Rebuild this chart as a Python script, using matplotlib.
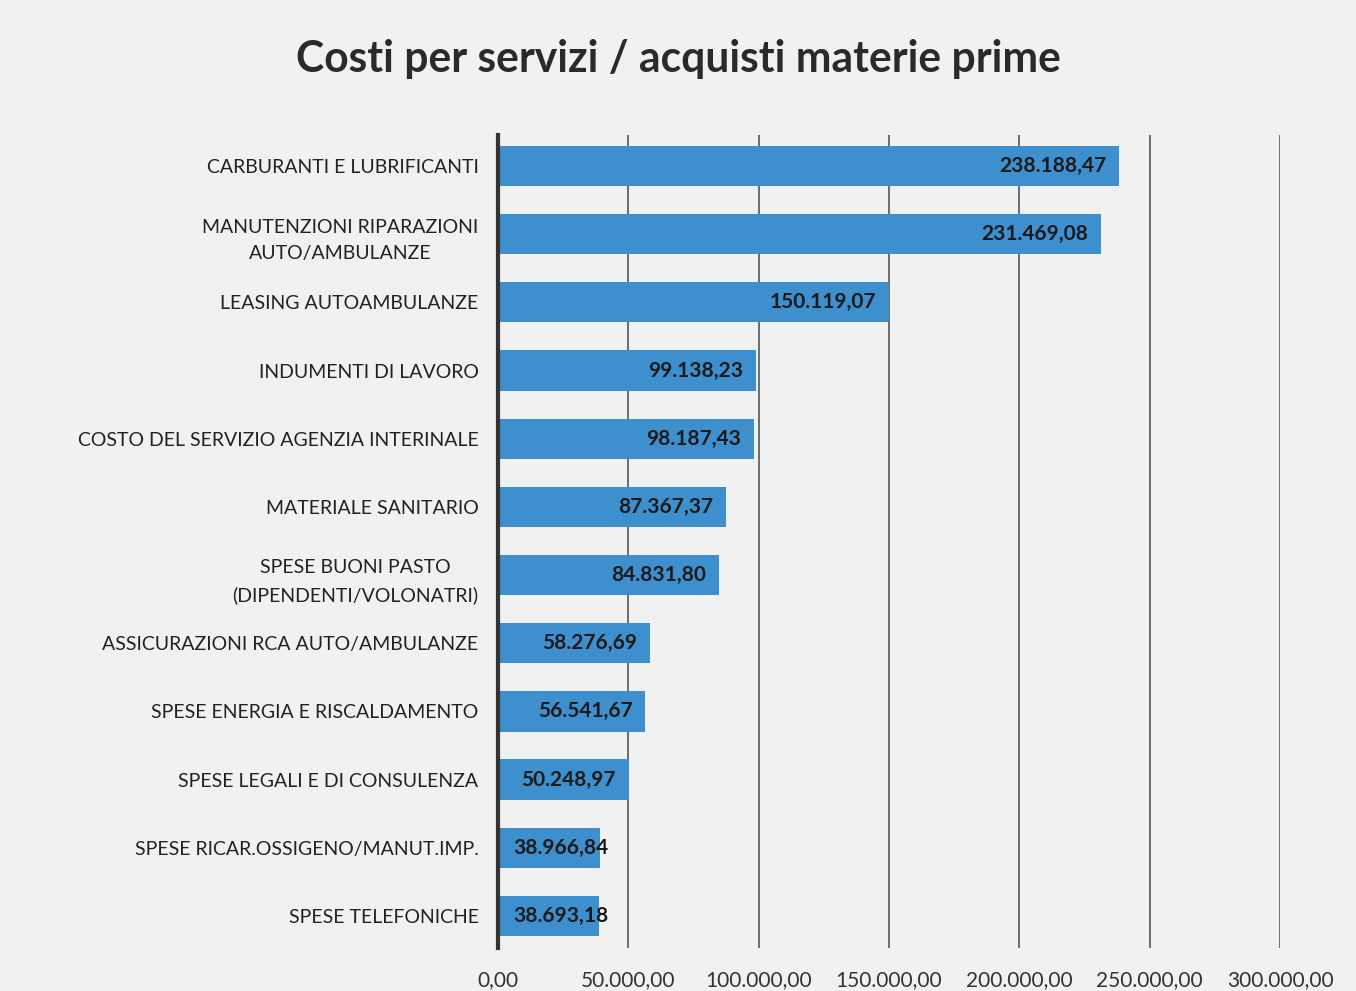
import numpy as np
import matplotlib.pyplot as plt

categories = [
    "CARBURANTI E LUBRIFICANTI",
    "MANUTENZIONI RIPARAZIONI\nAUTO/AMBULANZE",
    "LEASING AUTOAMBULANZE",
    "INDUMENTI DI LAVORO",
    "COSTO DEL SERVIZIO AGENZIA INTERINALE",
    "MATERIALE SANITARIO",
    "SPESE BUONI PASTO\n(DIPENDENTI/VOLONATRI)",
    "ASSICURAZIONI RCA AUTO/AMBULANZE",
    "SPESE ENERGIA E RISCALDAMENTO",
    "SPESE LEGALI E DI CONSULENZA",
    "SPESE RICAR.OSSIGENO/MANUT.IMP.",
    "SPESE TELEFONICHE",
]
values = [238188.47, 231469.08, 150119.07, 99138.23, 98187.43, 87367.37,
          84831.80, 58276.69, 56541.67, 50248.97, 38966.84, 38693.18]
xticks = [0, 50000, 100000, 150000, 200000, 250000, 300000]


def fmt_it(v):
    # italian number format: 1.234,56
    s = f"{v:,.2f}"
    return s.replace(",", "X").replace(".", ",").replace("X", ".")


plt.rcParams['font.family'] = ['Lato', 'DejaVu Sans']

fig = plt.figure(figsize=(13.56, 9.91), dpi=100, facecolor='#f1f1f1')
ax = fig.add_axes([0.3673, 0.0434, 0.5767, 0.8204])
ax.set_facecolor('none')

y = np.arange(len(categories))
ax.barh(y, values, height=0.59, color='#3d8fcd', zorder=3)
ax.set_ylim(len(categories) - 1 + 0.47, -0.455)
ax.set_xlim(0, 300000)

ax.set_yticks(y)
ax.set_yticklabels(categories, fontsize=14, color='#222222',
                   multialignment='center', linespacing=1.7)
ax.set_xticks(xticks)
ax.set_xticklabels([fmt_it(t) for t in xticks], fontsize=15, color='#333333')
ax.tick_params(axis='both', length=0)
ax.tick_params(axis='y', pad=14)
ax.tick_params(axis='x', pad=16)

ax.grid(axis='x', color='#555555', linewidth=1.2, zorder=1)
for s in ['top', 'right', 'bottom']:
    ax.spines[s].set_visible(False)
ax.spines['left'].set_linewidth(3)
ax.spines['left'].set_color('#333333')
ax.spines['left'].set_zorder(4)

for yi, v in zip(y, values):
    if v > 45000:
        ax.text(v - 5000, yi, fmt_it(v), ha='right', va='center',
                fontsize=15, fontweight='bold', color='#1a1a1a', zorder=5)
    else:
        ax.text(5800, yi, fmt_it(v), ha='left', va='center',
                fontsize=15, fontweight='bold', color='#1a1a1a', zorder=5)

fig.text(0.5, 0.94, "Costi per servizi / acquisti materie prime",
         ha='center', va='center', fontsize=30.7, fontweight='bold',
         color='#2a2a2a')

fig.savefig('out.png', dpi=100, facecolor=fig.get_facecolor())
